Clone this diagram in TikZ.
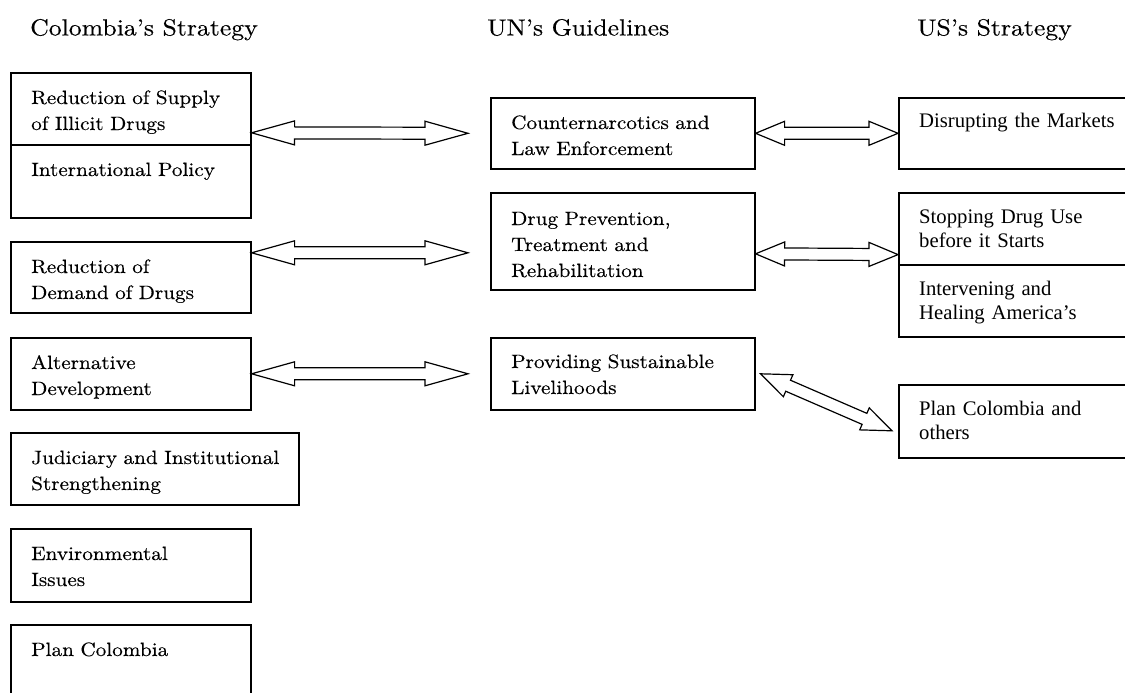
\documentclass[tikz,border=0pt]{standalone}
\usepackage{fontspec}
\newfontfamily\timesfont{Liberation Serif}
\newfontfamily\garafont{lmroman10-regular.otf}[FakeStretch=1.10,FakeBold=0.3]
\usetikzlibrary{calc}
\tikzset{
  box/.style={draw, line width=1.6pt, rectangle, inner sep=0pt, anchor=north west},
  txt/.style={inner sep=0pt, anchor=base west, text width=300pt, align=left,
    font=\garafont\fontsize{19.3}{26}\selectfont},
  ustxt/.style={txt, font=\timesfont\fontsize{20.7}{24}\selectfont},
  title/.style={inner sep=0pt, anchor=base west, font=\garafont\fontsize{23.4}{26}\selectfont},
  dblarrow/.style={line width=1.2pt, line join=miter, to path={
    (\tikztostart)
    -- ($(\tikztostart)!#1!(\tikztotarget)!12pt!90:(\tikztotarget)$)
    -- ($(\tikztostart)!#1!(\tikztotarget)!6pt!90:(\tikztotarget)$)
    -- ($(\tikztotarget)!#1!(\tikztostart)!6pt!-90:(\tikztostart)$)
    -- ($(\tikztotarget)!#1!(\tikztostart)!12pt!-90:(\tikztostart)$)
    -- (\tikztotarget)
    -- ($(\tikztotarget)!#1!(\tikztostart)!12pt!90:(\tikztostart)$)
    -- ($(\tikztotarget)!#1!(\tikztostart)!6pt!90:(\tikztostart)$)
    -- ($(\tikztostart)!#1!(\tikztotarget)!6pt!-90:(\tikztotarget)$)
    -- ($(\tikztostart)!#1!(\tikztotarget)!12pt!-90:(\tikztotarget)$)
    -- cycle}},
  dblarrow/.default=43pt
}
\begin{document}
\begin{tikzpicture}[x=1pt,y=-1pt]
\useasboundingbox (0,0) rectangle (1125,693);
% titles
\node[title] (t1) at (30,35.5) {Colombia’s Strategy};
\node[title] (t2) at (487,35.5) {UN’s Guidelines};
\node[title] (t3) at (917,35.5) {US’s Strategy};
% left column
\node[box, minimum width=240pt, minimum height=72pt] (L1a) at (10,72) {};
\node[box, minimum width=240pt, minimum height=73pt] (L1b) at (10,144) {};
\node[box, minimum width=240pt, minimum height=71pt] (L2) at (10,241) {};
\node[box, minimum width=240pt, minimum height=72pt] (L3) at (10,337) {};
\node[box, minimum width=288pt, minimum height=72pt] (L4) at (10,432) {};
\node[box, minimum width=240pt, minimum height=73pt] (L5) at (10,528) {};
\node[box, minimum width=240pt, minimum height=100pt] (L6) at (10,624) {};
\node[txt] (L1at) at ([shift={(21,32)}]L1a.north west) {Reduction of Supply\\of Illicit Drugs};
\node[txt] (L1bt) at ([shift={(21,32)}]L1b.north west) {International Policy};
\node[txt] (L2t) at ([shift={(21,32)}]L2.north west) {Reduction of\\Demand of Drugs};
\node[txt] (L3t) at ([shift={(21,32)}]L3.north west) {Alternative\\Development};
\node[txt] (L4t) at ([shift={(21,32)}]L4.north west) {Judiciary and Institutional\\Strengthening};
\node[txt] (L5t) at ([shift={(21,32)}]L5.north west) {Environmental\\Issues};
\node[txt] (L6t) at ([shift={(21,32)}]L6.north west) {Plan Colombia};
% middle column
\node[box, minimum width=264pt, minimum height=71pt] (M1) at (490,97) {};
\node[box, minimum width=264pt, minimum height=97pt] (M2) at (490,192) {};
\node[box, minimum width=264pt, minimum height=72pt] (M3) at (490,337) {};
\node[txt] (M1t) at ([shift={(21,32)}]M1.north west) {Counternarcotics and\\Law Enforcement};
\node[txt] (M2t) at ([shift={(21,33)}]M2.north west) {Drug Prevention,\\Treatment and\\Rehabilitation};
\node[txt] (M3t) at ([shift={(21,31)}]M3.north west) {Providing Sustainable\\Livelihoods};
% right column
\node[box, minimum width=260pt, minimum height=71pt] (R1) at (898,97) {};
\node[box, minimum width=260pt, minimum height=72pt] (R2a) at (898,192) {};
\node[box, minimum width=260pt, minimum height=72pt] (R2b) at (898,264) {};
\node[box, minimum width=260pt, minimum height=73pt] (R3) at (898,384) {};
\node[ustxt] (R1t) at ([shift={(21,31)}]R1.north west) {Disrupting the Markets};
\node[ustxt] (R2at) at ([shift={(21,31)}]R2a.north west) {Stopping Drug Use\\before it Starts};
\node[ustxt] (R2bt) at ([shift={(21,31)}]R2b.north west) {Intervening and\\Healing America’s};
\node[ustxt] (R3t) at ([shift={(21,31)}]R3.north west) {Plan Colombia and\\others};
% arrows
\draw[dblarrow] ([yshift=-24pt]L1a.east) to ([xshift=-22pt]M1.west);
\draw[dblarrow] ([yshift=24.5pt]L2.east) to ([xshift=-22pt,yshift=-11.5pt]M2.west);
\draw[dblarrow] (L3.east) to ([xshift=-22pt]M3.west);
\draw[dblarrow=29pt] (M1.east) to (R1.west);
\draw[dblarrow=29pt] ([yshift=-12.5pt]M2.east) to ([yshift=11pt]R2a.south west);
\draw[dblarrow=30pt] ([xshift=5pt]M3.east) to ([shift={(-6pt,-9.5pt)}]R3.west);
\end{tikzpicture}
\end{document}
